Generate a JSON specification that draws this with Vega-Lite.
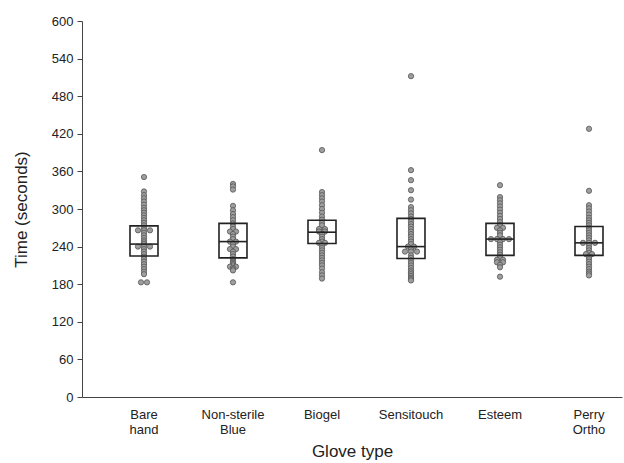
{
  "$schema": "https://vega.github.io/schema/vega-lite/v6.json",
  "width": 540,
  "height": 376,
  "autosize": "none",
  "padding": {"left": 82, "top": 21, "right": 2, "bottom": 66},
  "background": "white",
  "config": {
    "view": {"stroke": null},
    "font": "Liberation Sans",
    "axis": {"grid": false, "domainColor": "#444", "tickColor": "#444", "labelColor": "#222", "titleColor": "#222", "labelFontSize": 13, "titleFontSize": 17, "titleFontWeight": "normal", "labelOverlap": false, "labelBound": false},
    "axisY": {"values": [0, 60, 120, 180, 240, 300, 360, 420, 480, 540, 600], "tickSize": 5, "labelPadding": 4, "titlePadding": 21}
  },
  "datasets": {
    "points": [
      {"glove": "Bare hand", "time": 351}, {"glove": "Bare hand", "time": 328}, {"glove": "Bare hand", "time": 322}, {"glove": "Bare hand", "time": 317}, {"glove": "Bare hand", "time": 312}, {"glove": "Bare hand", "time": 307}, {"glove": "Bare hand", "time": 302}, {"glove": "Bare hand", "time": 298}, {"glove": "Bare hand", "time": 294}, {"glove": "Bare hand", "time": 290}, {"glove": "Bare hand", "time": 286}, {"glove": "Bare hand", "time": 282}, {"glove": "Bare hand", "time": 278}, {"glove": "Bare hand", "time": 274}, {"glove": "Bare hand", "time": 270}, {"glove": "Bare hand", "time": 266}, {"glove": "Bare hand", "time": 266}, {"glove": "Bare hand", "time": 266}, {"glove": "Bare hand", "time": 262}, {"glove": "Bare hand", "time": 258}, {"glove": "Bare hand", "time": 254}, {"glove": "Bare hand", "time": 250}, {"glove": "Bare hand", "time": 247}, {"glove": "Bare hand", "time": 244}, {"glove": "Bare hand", "time": 240}, {"glove": "Bare hand", "time": 240}, {"glove": "Bare hand", "time": 240}, {"glove": "Bare hand", "time": 236}, {"glove": "Bare hand", "time": 232}, {"glove": "Bare hand", "time": 228}, {"glove": "Bare hand", "time": 224}, {"glove": "Bare hand", "time": 220}, {"glove": "Bare hand", "time": 216}, {"glove": "Bare hand", "time": 212}, {"glove": "Bare hand", "time": 208}, {"glove": "Bare hand", "time": 204}, {"glove": "Bare hand", "time": 200}, {"glove": "Bare hand", "time": 196}, {"glove": "Bare hand", "time": 183}, {"glove": "Bare hand", "time": 183},

      {"glove": "Non-sterile Blue", "time": 340}, {"glove": "Non-sterile Blue", "time": 336}, {"glove": "Non-sterile Blue", "time": 331}, {"glove": "Non-sterile Blue", "time": 305}, {"glove": "Non-sterile Blue", "time": 298}, {"glove": "Non-sterile Blue", "time": 292}, {"glove": "Non-sterile Blue", "time": 287}, {"glove": "Non-sterile Blue", "time": 282}, {"glove": "Non-sterile Blue", "time": 277}, {"glove": "Non-sterile Blue", "time": 272}, {"glove": "Non-sterile Blue", "time": 268}, {"glove": "Non-sterile Blue", "time": 264}, {"glove": "Non-sterile Blue", "time": 264}, {"glove": "Non-sterile Blue", "time": 260}, {"glove": "Non-sterile Blue", "time": 256}, {"glove": "Non-sterile Blue", "time": 252}, {"glove": "Non-sterile Blue", "time": 248}, {"glove": "Non-sterile Blue", "time": 248}, {"glove": "Non-sterile Blue", "time": 244}, {"glove": "Non-sterile Blue", "time": 240}, {"glove": "Non-sterile Blue", "time": 236}, {"glove": "Non-sterile Blue", "time": 236}, {"glove": "Non-sterile Blue", "time": 232}, {"glove": "Non-sterile Blue", "time": 228}, {"glove": "Non-sterile Blue", "time": 224}, {"glove": "Non-sterile Blue", "time": 220}, {"glove": "Non-sterile Blue", "time": 216}, {"glove": "Non-sterile Blue", "time": 214}, {"glove": "Non-sterile Blue", "time": 212}, {"glove": "Non-sterile Blue", "time": 210}, {"glove": "Non-sterile Blue", "time": 208}, {"glove": "Non-sterile Blue", "time": 208}, {"glove": "Non-sterile Blue", "time": 206}, {"glove": "Non-sterile Blue", "time": 204}, {"glove": "Non-sterile Blue", "time": 202}, {"glove": "Non-sterile Blue", "time": 183},

      {"glove": "Biogel", "time": 394}, {"glove": "Biogel", "time": 327}, {"glove": "Biogel", "time": 322}, {"glove": "Biogel", "time": 317}, {"glove": "Biogel", "time": 312}, {"glove": "Biogel", "time": 306}, {"glove": "Biogel", "time": 300}, {"glove": "Biogel", "time": 294}, {"glove": "Biogel", "time": 288}, {"glove": "Biogel", "time": 283}, {"glove": "Biogel", "time": 278}, {"glove": "Biogel", "time": 274}, {"glove": "Biogel", "time": 268}, {"glove": "Biogel", "time": 268}, {"glove": "Biogel", "time": 264}, {"glove": "Biogel", "time": 264}, {"glove": "Biogel", "time": 260}, {"glove": "Biogel", "time": 256}, {"glove": "Biogel", "time": 252}, {"glove": "Biogel", "time": 248}, {"glove": "Biogel", "time": 246}, {"glove": "Biogel", "time": 246}, {"glove": "Biogel", "time": 242}, {"glove": "Biogel", "time": 238}, {"glove": "Biogel", "time": 234}, {"glove": "Biogel", "time": 230}, {"glove": "Biogel", "time": 226}, {"glove": "Biogel", "time": 222}, {"glove": "Biogel", "time": 218}, {"glove": "Biogel", "time": 214}, {"glove": "Biogel", "time": 210}, {"glove": "Biogel", "time": 205}, {"glove": "Biogel", "time": 199}, {"glove": "Biogel", "time": 194}, {"glove": "Biogel", "time": 189},

      {"glove": "Sensitouch", "time": 512}, {"glove": "Sensitouch", "time": 362}, {"glove": "Sensitouch", "time": 346}, {"glove": "Sensitouch", "time": 330}, {"glove": "Sensitouch", "time": 315}, {"glove": "Sensitouch", "time": 303}, {"glove": "Sensitouch", "time": 298}, {"glove": "Sensitouch", "time": 293}, {"glove": "Sensitouch", "time": 288}, {"glove": "Sensitouch", "time": 284}, {"glove": "Sensitouch", "time": 280}, {"glove": "Sensitouch", "time": 276}, {"glove": "Sensitouch", "time": 272}, {"glove": "Sensitouch", "time": 268}, {"glove": "Sensitouch", "time": 264}, {"glove": "Sensitouch", "time": 260}, {"glove": "Sensitouch", "time": 256}, {"glove": "Sensitouch", "time": 252}, {"glove": "Sensitouch", "time": 248}, {"glove": "Sensitouch", "time": 244}, {"glove": "Sensitouch", "time": 240}, {"glove": "Sensitouch", "time": 240}, {"glove": "Sensitouch", "time": 236}, {"glove": "Sensitouch", "time": 232}, {"glove": "Sensitouch", "time": 232}, {"glove": "Sensitouch", "time": 232}, {"glove": "Sensitouch", "time": 226}, {"glove": "Sensitouch", "time": 222}, {"glove": "Sensitouch", "time": 218}, {"glove": "Sensitouch", "time": 214}, {"glove": "Sensitouch", "time": 210}, {"glove": "Sensitouch", "time": 206}, {"glove": "Sensitouch", "time": 202}, {"glove": "Sensitouch", "time": 199}, {"glove": "Sensitouch", "time": 196}, {"glove": "Sensitouch", "time": 193}, {"glove": "Sensitouch", "time": 190}, {"glove": "Sensitouch", "time": 188}, {"glove": "Sensitouch", "time": 186},

      {"glove": "Esteem", "time": 338}, {"glove": "Esteem", "time": 319}, {"glove": "Esteem", "time": 314}, {"glove": "Esteem", "time": 309}, {"glove": "Esteem", "time": 304}, {"glove": "Esteem", "time": 299}, {"glove": "Esteem", "time": 294}, {"glove": "Esteem", "time": 289}, {"glove": "Esteem", "time": 284}, {"glove": "Esteem", "time": 279}, {"glove": "Esteem", "time": 274}, {"glove": "Esteem", "time": 270}, {"glove": "Esteem", "time": 270}, {"glove": "Esteem", "time": 266}, {"glove": "Esteem", "time": 262}, {"glove": "Esteem", "time": 258}, {"glove": "Esteem", "time": 252}, {"glove": "Esteem", "time": 252}, {"glove": "Esteem", "time": 252}, {"glove": "Esteem", "time": 252}, {"glove": "Esteem", "time": 247}, {"glove": "Esteem", "time": 243}, {"glove": "Esteem", "time": 239}, {"glove": "Esteem", "time": 235}, {"glove": "Esteem", "time": 231}, {"glove": "Esteem", "time": 227}, {"glove": "Esteem", "time": 223}, {"glove": "Esteem", "time": 219}, {"glove": "Esteem", "time": 219}, {"glove": "Esteem", "time": 215}, {"glove": "Esteem", "time": 215}, {"glove": "Esteem", "time": 211}, {"glove": "Esteem", "time": 207}, {"glove": "Esteem", "time": 192},

      {"glove": "Perry Ortho", "time": 428}, {"glove": "Perry Ortho", "time": 329}, {"glove": "Perry Ortho", "time": 306}, {"glove": "Perry Ortho", "time": 301}, {"glove": "Perry Ortho", "time": 296}, {"glove": "Perry Ortho", "time": 291}, {"glove": "Perry Ortho", "time": 286}, {"glove": "Perry Ortho", "time": 282}, {"glove": "Perry Ortho", "time": 278}, {"glove": "Perry Ortho", "time": 274}, {"glove": "Perry Ortho", "time": 270}, {"glove": "Perry Ortho", "time": 266}, {"glove": "Perry Ortho", "time": 262}, {"glove": "Perry Ortho", "time": 258}, {"glove": "Perry Ortho", "time": 254}, {"glove": "Perry Ortho", "time": 250}, {"glove": "Perry Ortho", "time": 246}, {"glove": "Perry Ortho", "time": 246}, {"glove": "Perry Ortho", "time": 246}, {"glove": "Perry Ortho", "time": 242}, {"glove": "Perry Ortho", "time": 238}, {"glove": "Perry Ortho", "time": 234}, {"glove": "Perry Ortho", "time": 230}, {"glove": "Perry Ortho", "time": 228}, {"glove": "Perry Ortho", "time": 228}, {"glove": "Perry Ortho", "time": 224}, {"glove": "Perry Ortho", "time": 220}, {"glove": "Perry Ortho", "time": 216}, {"glove": "Perry Ortho", "time": 212}, {"glove": "Perry Ortho", "time": 208}, {"glove": "Perry Ortho", "time": 204}, {"glove": "Perry Ortho", "time": 200}, {"glove": "Perry Ortho", "time": 197}, {"glove": "Perry Ortho", "time": 194}
    ],
    "boxes": [
      {"glove": "Bare hand", "q1": 225, "median": 244, "q3": 273},
      {"glove": "Non-sterile Blue", "q1": 222, "median": 248, "q3": 277},
      {"glove": "Biogel", "q1": 245, "median": 263, "q3": 282},
      {"glove": "Sensitouch", "q1": 221, "median": 240, "q3": 285},
      {"glove": "Esteem", "q1": 226, "median": 252, "q3": 277},
      {"glove": "Perry Ortho", "q1": 226, "median": 246, "q3": 272}
    ]
  },
  "encoding": {
    "x": {
      "field": "glove", "type": "nominal",
      "sort": ["Bare hand", "Non-sterile Blue", "Biogel", "Sensitouch", "Esteem", "Perry Ortho"],
      "scale": {"paddingInner": 0.5, "paddingOuter": 0.2837, "align": 0.787},
      "axis": {"title": "Glove type", "labelAngle": 0, "ticks": false, "labelPadding": 11, "labelExpr": "split(datum.label, ' ')", "labelLineHeight": 15, "titlePadding": 7}
    }
  },
  "layer": [
    {
      "data": {"name": "points"},
      "transform": [
        {"window": [{"op": "row_number", "as": "rn"}, {"op": "count", "as": "cnt"}], "groupby": ["glove", "time"], "frame": [null, null]},
        {"calculate": "datum.rn - (datum.cnt + 1) / 2", "as": "off"}
      ],
      "mark": {"type": "circle", "size": 28, "fill": "#9e9e9e", "stroke": "#555", "strokeWidth": 0.8, "opacity": 1},
      "encoding": {
        "y": {"field": "time", "type": "quantitative", "scale": {"domain": [0, 600], "nice": false},
          "axis": {"title": "Time (seconds)", "values": [0, 60, 120, 180, 240, 300, 360, 420, 480, 540, 600]}},
        "xOffset": {"field": "off", "type": "quantitative", "scale": {"domain": [-2, 2], "range": [10.25, 34.25]}}
      }
    },
    {
      "data": {"name": "boxes"},
      "mark": {"type": "bar", "width": 28, "fill": "white", "fillOpacity": 0, "stroke": "#222", "strokeWidth": 1.6},
      "encoding": {
        "y": {"field": "q1", "type": "quantitative", "axis": {"title": "Time (seconds)", "values": [0, 60, 120, 180, 240, 300, 360, 420, 480, 540, 600]}},
        "y2": {"field": "q3"}
      }
    },
    {
      "data": {"name": "boxes"},
      "mark": {"type": "tick", "size": 28, "thickness": 1.6, "color": "#222", "opacity": 1},
      "encoding": {
        "y": {"field": "median", "type": "quantitative", "axis": {"title": "Time (seconds)", "values": [0, 60, 120, 180, 240, 300, 360, 420, 480, 540, 600]}}
      }
    }
  ]
}
